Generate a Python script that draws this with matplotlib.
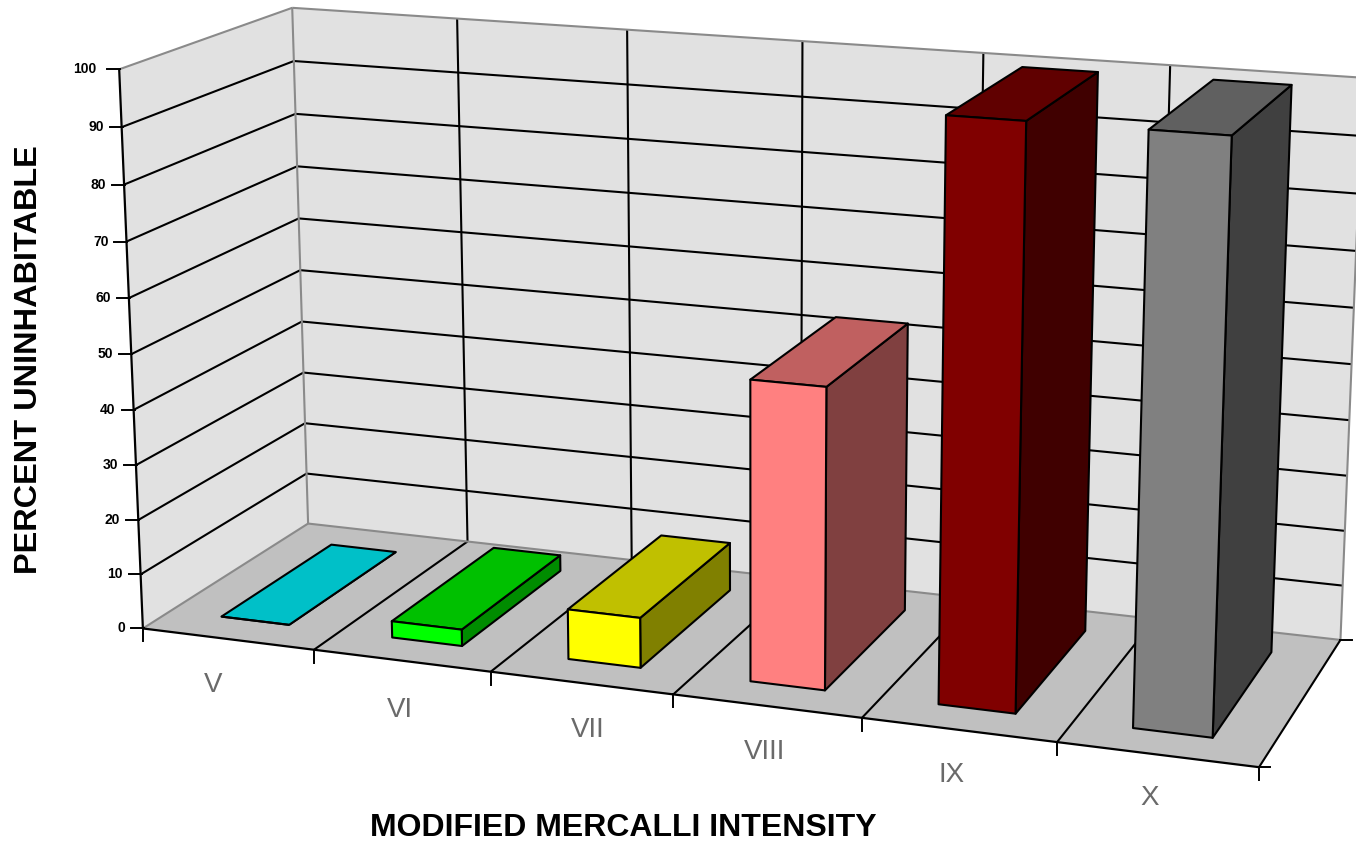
import numpy as np
import matplotlib
matplotlib.use("Agg")
import matplotlib.pyplot as plt

categories = ["V", "VI", "VII", "VIII", "IX", "X"]
values = [0, 3, 9, 53, 100, 100]
y_ticks = [0, 10, 20, 30, 40, 50, 60, 70, 80, 90, 100]

front_colors = ["#00C0C8", "#00FF00", "#FFFF00", "#FF8080", "#800000", "#808080"]
top_colors = ["#00C0C8", "#00C000", "#C0C000", "#C06060", "#600000", "#606060"]
side_colors = ["#008088", "#008C00", "#808000", "#804040", "#400000", "#404040"]

GAP = 0.30
D0, D1 = 0.16, 0.84
WALL, FLOOR, EDGE = "#E1E1E1", "#C0C0C0", "#8A8A8A"

# Calibration of the camera: (category position, depth, value) -> pixel
calib = [
    (0, 0, 0, 143, 628), (0, 0, 100, 119, 70), (0, 1, 0, 309, 523),
    (0, 1, 100, 292, 7), (6, 0, 0, 1260, 768), (6, 1, 0, 1341, 640),
    (6, 1, 100, 1359, 78),
    (4.3, D0, 100, 945, 115), (4.7, D0, 100, 1025, 120),
    (5.3, D0, 100, 1149, 129), (5.7, D0, 100, 1232, 136),
    (4.3, D0, 0, 938, 703), (4.7, D0, 0, 1014, 714),
    (5.3, D0, 0, 1132, 727), (5.7, D0, 0, 1214, 738),
    (4.3, D1, 100, 1023, 68), (4.7, D1, 100, 1100, 72),
    (5.3, D1, 100, 1215, 79), (5.7, D1, 100, 1293, 86),
    (0.3, D0, 0, 222, 617), (0.7, D0, 0, 290, 626),
    (0.3, D1, 0, 332, 545), (0.7, D1, 0, 393, 552),
]
A, b = [], []
for X, Y, Z, u, v in calib:
    A.append([X, Y, Z, 1, 0, 0, 0, 0, -u * X, -u * Y, -u * Z])
    A.append([0, 0, 0, 0, X, Y, Z, 1, -v * X, -v * Y, -v * Z])
    b += [u, v]
P = np.append(np.linalg.lstsq(np.array(A, float), np.array(b, float), rcond=None)[0], 1).reshape(3, 4)


def project(x, d, z):
    h = P @ np.array([x, d, z, 1.0])
    return h[0] / h[2], h[1] / h[2]


fig = plt.figure(figsize=(13.56, 8.42), dpi=100, facecolor="white")
ax = fig.add_axes([0, 0, 1, 1])
ax.set_xlim(0, 1356)
ax.set_ylim(842, 0)
ax.axis("off")


def poly(pts, fc, ec="none", lw=0, zo=1):
    xy = np.array([project(*p) for p in pts])
    ax.fill(xy[:, 0], xy[:, 1], facecolor=fc, edgecolor=ec, linewidth=lw,
            joinstyle="round", zorder=zo, clip_on=True)


def line(p, q, c="black", lw=1.5, zo=2):
    a, b_ = project(*p), project(*q)
    ax.plot([a[0], b_[0]], [a[1], b_[1]], color=c, lw=lw, zorder=zo, solid_capstyle="butt")


n = len(categories)
top = y_ticks[-1]
# walls and floor
poly([(0, 0, 0), (0, 1, 0), (0, 1, top), (0, 0, top)], WALL)
poly([(0, 1, 0), (n, 1, 0), (n, 1, top), (0, 1, top)], WALL)
poly([(0, 0, 0), (n, 0, 0), (n, 1, 0), (0, 1, 0)], FLOOR)

# gridlines
for t in y_ticks[1:-1]:
    line((0, 0, t), (0, 1, t))
    line((0, 1, t), (n, 1, t))
for i in range(1, n):
    line((i, 1, 0), (i, 1, top))
    line((i, 0, 0), (i, 1, 0))

# pale outer edges
line((0, 0, top), (0, 1, top), EDGE)
line((0, 1, top), (n, 1, top), EDGE)
line((0, 1, 0), (0, 1, top), EDGE)
line((n, 1, 0), (n, 1, top), EDGE)
line((0, 0, 0), (0, 1, 0), EDGE)
line((0, 1, 0), (n, 1, 0), EDGE)

# axis lines
line((0, 0, 0), (0, 0, top), "black", 1.6)
line((0, 0, 0), (n, 0, 0), "black", 1.6)
line((n, 0, 0), (n, 1, 0), "black", 1.5)

# tick marks and labels
for t in y_ticks:
    x0, y0 = project(0, 0, t)
    ax.plot([x0 - 12, x0 + 1], [y0, y0], color="black", lw=1.4, zorder=2)
    pad = 23 if t == top else 18
    ax.text(x0 - pad, y0, str(t), ha="right", va="center", fontsize=10, fontweight="bold",
            family=["Liberation Sans Narrow", "Liberation Sans"], color="black")
for i in range(n + 1):
    x0, y0 = project(i, 0, 0)
    ax.plot([x0, x0], [y0, y0 + 13], color="black", lw=1.4, zorder=2)
x0, y0 = project(n, 0, 0)
ax.plot([x0, x0 + 11], [y0, y0], color="black", lw=1.4, zorder=2)
x0, y0 = project(n, 1, 0)
ax.plot([x0, x0 + 12], [y0, y0], color="black", lw=1.4, zorder=2)

# bars
for i, v in enumerate(values):
    l, r = i + GAP, i + 1 - GAP
    kw = dict(ec="black", lw=1.5, zo=3 + i * 0.1)
    poly([(r, D0, 0), (r, D1, 0), (r, D1, v), (r, D0, v)], side_colors[i], **kw)
    poly([(l, D0, v), (r, D0, v), (r, D1, v), (l, D1, v)], top_colors[i], **kw)
    poly([(l, D0, 0), (r, D0, 0), (r, D0, v), (l, D0, v)], front_colors[i], **kw)

# category labels
label_pos = [(213, 685), (400, 710), (588, 730), (765, 752), (952, 775), (1150, 798)]
for name, pos in zip(categories, label_pos):
    ax.text(pos[0], pos[1], name, ha="center", va="center", fontsize=20,
            family="Liberation Sans", color="#6A6A6A")

ax.text(623, 828, "MODIFIED MERCALLI INTENSITY", ha="center", va="center", fontsize=23,
        fontweight="bold", family="Liberation Sans", color="black")
ax.text(29, 360, "PERCENT UNINHABITABLE", ha="center", va="center", rotation=90, fontsize=23.4,
        fontweight="bold", family="Liberation Sans", color="black")

fig.savefig("out.png", dpi=100, facecolor="white")
